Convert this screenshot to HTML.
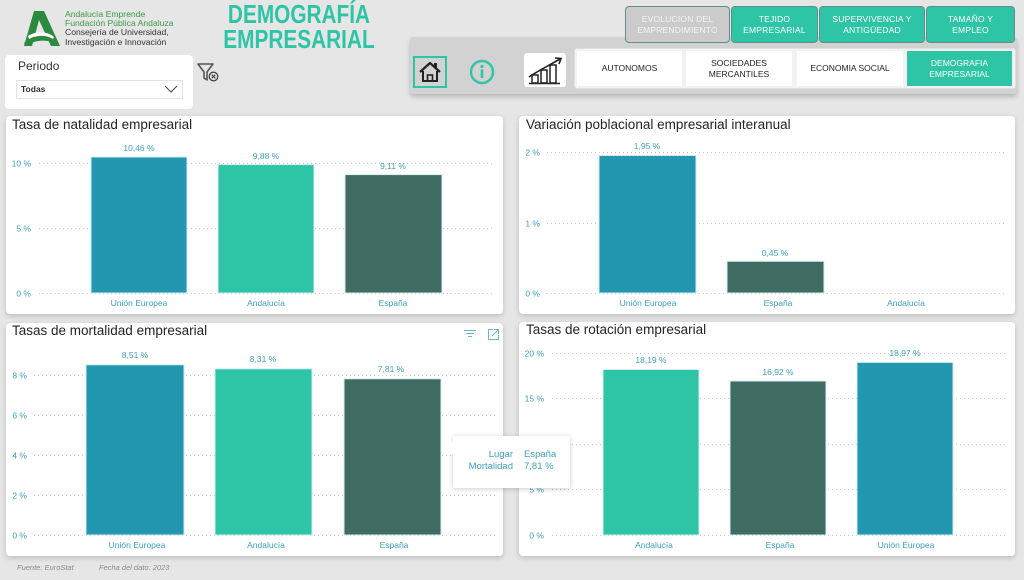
<!DOCTYPE html>
<html><head><meta charset="utf-8">
<style>
*{margin:0;padding:0;box-sizing:border-box}
body{width:1024px;height:580px;background:#e6e6e6;font-family:"Liberation Sans",sans-serif;position:relative;overflow:hidden}
.abs{position:absolute}
.panel{position:absolute;background:#fff;border-radius:4px;box-shadow:0 2px 6px rgba(0,0,0,0.18)}
.tbtn{position:absolute;top:6px;height:37px;background:#2ec4a6;border:1.5px solid #5f8f8a;border-radius:4px;color:#fff;font-size:8.5px;line-height:11px;text-align:center;display:flex;align-items:center;justify-content:center;letter-spacing:0.2px}
.ibtn{position:absolute;top:51px;height:35px;background:#fff;color:#222;font-size:8.5px;line-height:10.5px;text-align:center;display:flex;align-items:center;justify-content:center}
.title{position:absolute;font-size:13.5px;color:#252423;white-space:nowrap}
</style></head>
<body>

<!-- Logo -->
<svg class="abs" style="left:20px;top:10px" width="44" height="38" viewBox="0 0 44 38">
  <polygon points="14,1 24,1 40,36 31,36 19,10 12,36 4,36" fill="#2b8a3e"/>
  <path d="M4,33 C14,24 26,24 36,30 L38,35 C28,29 16,29 6,36 Z" fill="#2b8a3e"/>
  <path d="M8,26 C18,20 28,22 34,27 L33,29 C26,25 18,24 9,29 Z" fill="#fff"/>
</svg>
<div class="abs" style="left:65px;top:10px;font-size:8.6px;line-height:9.2px;white-space:nowrap">
  <div style="color:#3a9a45">Andalucía Emprende</div>
  <div style="color:#3a9a45">Fundación Pública Andaluza</div>
  <div style="color:#333">Consejería de Universidad,</div>
  <div style="color:#333">Investigación e Innovación</div>
</div>

<!-- Title -->
<div class="abs" style="left:199px;top:2px;width:200px;text-align:center;color:#2ec4a6;font-weight:bold;font-size:26px;line-height:25px;transform:scaleX(0.8);transform-origin:center">DEMOGRAFÍA<br>EMPRESARIAL</div>

<!-- Periodo slicer -->
<div class="abs" style="left:5px;top:55px;width:188px;height:54px;background:#fff;border-radius:4px"></div>
<div class="abs" style="left:18px;top:59px;font-size:12px;color:#333">Periodo</div>
<div class="abs" style="left:16px;top:80px;width:167px;height:19px;border:1px solid #e2e2e2;background:#fff"></div>
<div class="abs" style="left:21px;top:84px;font-size:8.5px;font-weight:bold;color:#333">Todas</div>
<svg class="abs" style="left:164px;top:85px" width="14" height="8"><polyline points="1,1 7,7 13,1" fill="none" stroke="#444" stroke-width="1"/></svg>
<!-- filter clear icon -->
<svg class="abs" style="left:197px;top:62px" width="24" height="22">
  <polygon points="1,2 16,2 10,10 10,18 7,16 7,10" fill="none" stroke="#555" stroke-width="1.6" stroke-linejoin="round"/>
  <circle cx="16.5" cy="14.5" r="4.3" fill="#e6e6e6" stroke="#444" stroke-width="1.3"/>
  <path d="M14.7,12.7 L18.3,16.3 M18.3,12.7 L14.7,16.3" stroke="#444" stroke-width="1.1"/>
</svg>

<!-- Nav gray bar -->
<div class="abs" style="left:410px;top:37px;width:607px;height:57px;background:#d2d2d2;border-radius:3px;box-shadow:0 3px 5px rgba(0,0,0,0.2)"></div>
<!-- top buttons -->
<div class="tbtn" style="left:625px;width:105px;background:#cbcbcb;color:#f4f4f4">EVOLUCION DEL<br>EMPRENDIMIENTO</div>
<div class="tbtn" style="left:731px;width:87px">TEJIDO<br>EMPRESARIAL</div>
<div class="tbtn" style="left:819px;width:106px">SUPERVIVENCIA Y<br>ANTIGÜEDAD</div>
<div class="tbtn" style="left:926px;width:89px">TAMAÑO Y<br>EMPLEO</div>

<!-- home -->
<div class="abs" style="left:413px;top:56px;width:34px;height:32px;border:2px solid #2ec4a6"></div>
<svg class="abs" style="left:417px;top:60px" width="26" height="24">
  <path d="M3,12 L13,3 L23,12" fill="none" stroke="#222" stroke-width="2.2" stroke-linejoin="round"/>
  <path d="M6,11 L6,21 L20,21 L20,11" fill="none" stroke="#222" stroke-width="2"/>
  <rect x="10.5" y="15" width="5" height="6" fill="none" stroke="#222" stroke-width="1.6"/>
  <rect x="17" y="3" width="3" height="5" fill="#222"/>
</svg>
<!-- info -->
<svg class="abs" style="left:469px;top:59px" width="26" height="26">
  <circle cx="13" cy="13" r="11" fill="none" stroke="#2ec4a6" stroke-width="2.4"/>
  <circle cx="13" cy="7.5" r="1.6" fill="#2ec4a6"/>
  <rect x="11.7" y="10.5" width="2.6" height="8.5" fill="#2ec4a6"/>
</svg>
<!-- chart icon -->
<div class="abs" style="left:524px;top:53px;width:42px;height:34px;background:#fff;border-radius:3px"></div>
<svg class="abs" style="left:526px;top:55px" width="38" height="30">
  <path d="M3,22 C12,16 22,11 34,4" fill="none" stroke="#222" stroke-width="1.6"/>
  <polyline points="29,3 35,3.5 33,9" fill="none" stroke="#222" stroke-width="1.6"/>
  <rect x="6" y="20" width="6" height="8" fill="none" stroke="#222" stroke-width="1.5"/>
  <rect x="15" y="15" width="6" height="13" fill="none" stroke="#222" stroke-width="1.5"/>
  <rect x="24" y="10" width="6" height="18" fill="none" stroke="#222" stroke-width="1.5"/>
  <line x1="3" y1="28.5" x2="34" y2="28.5" stroke="#222" stroke-width="1.5"/>
</svg>
<!-- inner button container -->
<div class="abs" style="left:574px;top:48px;width:442px;height:41px;background:#f2f2f2;border:1px solid #e0e0e0;border-radius:3px"></div>
<div class="ibtn" style="left:577px;width:105px">AUTONOMOS</div>
<div class="ibtn" style="left:686px;width:106px">SOCIEDADES<br>MERCANTILES</div>
<div class="ibtn" style="left:797px;width:106px">ECONOMIA SOCIAL</div>
<div class="ibtn" style="left:907px;width:105px;background:#2ec4a6;color:#fff">DEMOGRAFIA<br>EMPRESARIAL</div>

<!-- Panels -->
<div class="panel" style="left:6px;top:116px;width:497px;height:198px"></div>
<div class="panel" style="left:519px;top:116px;width:496px;height:198px"></div>
<div class="panel" style="left:6px;top:323px;width:497px;height:233px"></div>
<div class="panel" style="left:519px;top:322px;width:496px;height:234px"></div>

<div class="title" style="left:12px;top:117px">Tasa de natalidad empresarial</div>
<div class="title" style="left:526px;top:117px">Variación poblacional empresarial interanual</div>
<div class="title" style="left:12px;top:323px">Tasas de mortalidad empresarial</div>
<div class="title" style="left:526px;top:322px">Tasas de rotación empresarial</div>

<svg class="abs" style="left:0;top:0" width="1024" height="580" font-family="Liberation Sans, sans-serif">
  <g stroke="#c9c9c9" stroke-width="1" stroke-dasharray="1 3">
    <line x1="39" y1="163.5" x2="495" y2="163.5"/>
    <line x1="39" y1="228.5" x2="495" y2="228.5"/>
    <line x1="39" y1="293.5" x2="495" y2="293.5"/>
    <line x1="547" y1="152.5" x2="1007" y2="152.5"/>
    <line x1="547" y1="223.5" x2="1007" y2="223.5"/>
    <line x1="547" y1="293.5" x2="1007" y2="293.5"/>
    <line x1="34" y1="375.5" x2="497" y2="375.5"/>
    <line x1="34" y1="415.5" x2="497" y2="415.5"/>
    <line x1="34" y1="455.5" x2="497" y2="455.5"/>
    <line x1="34" y1="495.5" x2="497" y2="495.5"/>
    <line x1="34" y1="535.5" x2="497" y2="535.5"/>
    <line x1="552" y1="353.5" x2="1007" y2="353.5"/>
    <line x1="552" y1="398.5" x2="1007" y2="398.5"/>
    <line x1="552" y1="444.5" x2="1007" y2="444.5"/>
    <line x1="552" y1="489.5" x2="1007" y2="489.5"/>
    <line x1="552" y1="535.5" x2="1007" y2="535.5"/>
  </g>

  <g stroke="#d6ecef" stroke-width="1">
    <rect x="91" y="157" width="96" height="136" fill="#2396b0"/>
    <rect x="218" y="164.6" width="96" height="128.4" fill="#2ec4a6"/>
    <rect x="345" y="174.6" width="97" height="118.4" fill="#406b62"/>
    <rect x="599" y="155.5" width="97" height="137.5" fill="#2396b0"/>
    <rect x="727" y="261.3" width="97" height="31.7" fill="#406b62"/>
    <rect x="86" y="364.8" width="98" height="170.2" fill="#2396b0"/>
    <rect x="215" y="368.8" width="97" height="166.2" fill="#2ec4a6"/>
    <rect x="344" y="378.8" width="97" height="156.2" fill="#406b62"/>
    <rect x="603" y="369.5" width="96" height="165.5" fill="#2ec4a6"/>
    <rect x="730" y="381" width="96" height="154" fill="#406b62"/>
    <rect x="857" y="362.4" width="96" height="172.6" fill="#2396b0"/>
  </g>

  <g fill="#3c9fbd" font-size="8.5">
    <g text-anchor="end">
      <text x="31" y="166.5">10 %</text>
      <text x="31" y="231.5">5 %</text>
      <text x="31" y="296.5">0 %</text>
      <text x="540" y="155.5">2 %</text>
      <text x="540" y="226.5">1 %</text>
      <text x="540" y="296.5">0 %</text>
      <text x="27" y="378.5">8 %</text>
      <text x="27" y="418.5">6 %</text>
      <text x="27" y="458.5">4 %</text>
      <text x="27" y="498.5">2 %</text>
      <text x="27" y="538.5">0 %</text>
      <text x="544" y="356.5">20 %</text>
      <text x="544" y="401.5">15 %</text>
      <text x="544" y="447.5">10 %</text>
      <text x="544" y="492.5">5 %</text>
      <text x="544" y="538.5">0 %</text>
    </g>
    <g text-anchor="middle">
      <text x="139" y="151">10,46 %</text>
      <text x="266" y="159">9,88 %</text>
      <text x="393" y="169">9,11 %</text>
      <text x="139" y="306">Unión Europea</text>
      <text x="266" y="306">Andalucía</text>
      <text x="393" y="306">España</text>

      <text x="647" y="149">1,95 %</text>
      <text x="775" y="256">0,45 %</text>
      <text x="648" y="306">Unión Europea</text>
      <text x="778" y="306">España</text>
      <text x="906" y="306">Andalucía</text>

      <text x="135" y="358">8,51 %</text>
      <text x="263" y="362">8,31 %</text>
      <text x="391" y="372">7,81 %</text>
      <text x="137" y="548">Unión Europea</text>
      <text x="266" y="548">Andalucía</text>
      <text x="394" y="548">España</text>

      <text x="651" y="363">18,19 %</text>
      <text x="778" y="375">16,92 %</text>
      <text x="905" y="356">18,97 %</text>
      <text x="654" y="548">Andalucía</text>
      <text x="780" y="548">España</text>
      <text x="906" y="548">Unión Europea</text>
    </g>
  </g>

  <g stroke="#6ab7cc" stroke-width="1" fill="none">
    <line x1="464" y1="330.5" x2="476" y2="330.5"/>
    <line x1="466" y1="333.5" x2="474" y2="333.5"/>
    <line x1="468" y1="336.5" x2="472" y2="336.5"/>
    <path d="M493,329.5 L488.5,329.5 L488.5,339.5 L498.5,339.5 L498.5,335"/>
    <path d="M494,329.5 L498.5,329.5 L498.5,334 M498.5,329.5 L492,336"/>
  </g>

  <g fill="#8a8a8a" font-size="7.5" font-style="italic">
    <text x="17" y="570">Fuente: EuroStat</text>
    <text x="99" y="570">Fecha del dato: 2023</text>
  </g>
</svg>

<!-- Tooltip -->
<div class="abs" style="left:453px;top:436px;width:117px;height:52px;background:#fff;box-shadow:0 1px 5px rgba(0,0,0,0.2)"></div>
<div class="abs" style="left:446px;top:443px;width:10px;height:10px;background:#fff;transform:rotate(45deg)"></div>
<div class="abs" style="left:453px;top:449px;width:60px;text-align:right;color:#3c9fbd;font-size:9.5px;line-height:12px">Lugar<br>Mortalidad</div>
<div class="abs" style="left:524px;top:449px;color:#3c9fbd;font-size:9.5px;line-height:12px">España<br>7,81 %</div>

</body></html>
